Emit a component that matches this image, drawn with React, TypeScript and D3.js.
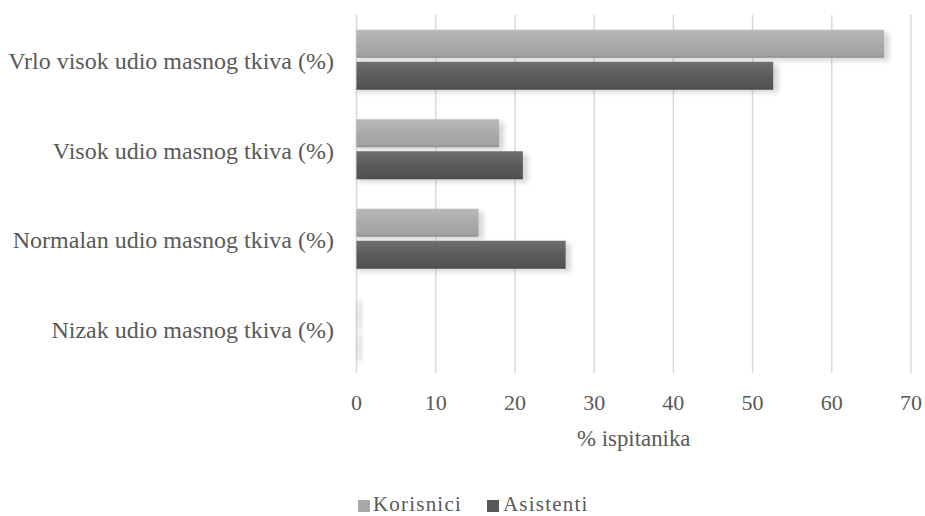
import React from 'react';
import * as d3 from 'd3';

const categories = [
  'Vrlo visok udio masnog tkiva (%)',
  'Visok udio masnog tkiva (%)',
  'Normalan udio masnog tkiva (%)',
  'Nizak udio masnog tkiva (%)',
];
const seriesNames = ['Korisnici', 'Asistenti'];
const korisnici = [66.6, 18.0, 15.4, 0];
const asistenti = [52.6, 21.0, 26.4, 0];
const xTicks = [0, 10, 20, 30, 40, 50, 60, 70];
const axisTitle = '% ispitanika';

const W = 925;
const H = 516;
const FONT = "'Liberation Serif', Tinos, 'Times New Roman', 'DejaVu Serif', serif";
const TEXT = '#595959';

export default function App() {
  const x = d3.scaleLinear().domain([0, 70]).range([356.5, 911]);
  const y = d3
    .scaleBand<string>()
    .domain(categories)
    .range([15, 373])
    .paddingInner(0.33)
    .paddingOuter(0.165);
  const sub = d3
    .scaleBand<string>()
    .domain(seriesNames)
    .range([0, y.bandwidth()])
    .paddingInner(0.125);
  const values: Record<string, number[]> = { Korisnici: korisnici, Asistenti: asistenti };
  const fills: Record<string, string> = { Korisnici: 'url(#gK)', Asistenti: 'url(#gA)' };
  const swatch: Record<string, string> = { Korisnici: '#a9a9a9', Asistenti: '#585858' };
  const x0 = x(0);

  const bars = seriesNames.flatMap((s) =>
    categories.map((c, i) => ({
      s,
      c,
      v: values[s][i],
      y: (y(c) as number) + (sub(s) as number),
      h: sub.bandwidth(),
    }))
  );

  const legendItems = [
    { s: 'Korisnici', sx: 358, tx: 373 },
    { s: 'Asistenti', sx: 487, tx: 503 },
  ];
  const ts = { fontFamily: FONT };

  return (
    <svg
      width={W}
      height={H}
      style={{ position: 'absolute', left: 0, top: 0, background: '#fff', fontFamily: FONT }}
    >
      <defs>
        <linearGradient id="gK" x1="0" y1="0" x2="0" y2="1">
          <stop offset="0" stopColor="#b9b9b9" />
          <stop offset="0.5" stopColor="#aaaaaa" />
          <stop offset="0.9" stopColor="#a2a2a2" />
          <stop offset="1" stopColor="#8e8e8e" />
        </linearGradient>
        <linearGradient id="gA" x1="0" y1="0" x2="0" y2="1">
          <stop offset="0" stopColor="#6f6f6f" />
          <stop offset="0.5" stopColor="#5b5b5b" />
          <stop offset="0.9" stopColor="#535353" />
          <stop offset="1" stopColor="#464646" />
        </linearGradient>
        <filter id="blur" x="-50%" y="-50%" width="200%" height="200%">
          <feGaussianBlur stdDeviation="2.5" />
        </filter>
      </defs>
      <rect x={0} y={0} width={W} height={H} fill="#fff" />
      {xTicks.map((t) => (
        <line
          key={'g' + t}
          x1={x(t)}
          x2={x(t)}
          y1={15}
          y2={373}
          stroke="#d9d9d9"
          strokeWidth={1.5}
        />
      ))}
      {bars.map((b) => (
        <rect
          key={'sh' + b.s + b.c}
          x={x0 + 1}
          y={b.y + 3}
          width={Math.max(x(b.v) - x0, 0) + 4}
          height={b.h}
          fill="#7a7a7a"
          opacity={0.3}
          filter="url(#blur)"
        />
      ))}
      {bars.map((b) => (
        <rect
          key={'b' + b.s + b.c}
          x={x0}
          y={b.y}
          width={Math.max(x(b.v) - x0, 0)}
          height={b.h}
          fill={fills[b.s]}
        />
      ))}
      {categories.map((c) => (
        <text
          key={'c' + c}
          x={334}
          y={(y(c) as number) + y.bandwidth() / 2 + 9.5}
          textAnchor="end"
          fontSize={24}
          fill={TEXT}
          style={ts}
        >
          {c}
        </text>
      ))}
      {xTicks.map((t) => (
        <text key={'t' + t} x={x(t)} y={410} textAnchor="middle" fontSize={22} fill={TEXT} style={ts}>
          {t}
        </text>
      ))}
      <text
        x={(x(0) + x(70)) / 2}
        y={446}
        textAnchor="middle"
        fontSize={22.8}
        fill={TEXT}
        style={ts}
      >
        {axisTitle}
      </text>
      {legendItems.map((l) => (
        <g key={'l' + l.s}>
          <rect x={l.sx} y={500} width={12} height={12} fill={swatch[l.s]} />
          <text x={l.tx} y={511} fontSize={21} letterSpacing={1.2} fill={TEXT} style={ts}>
            {l.s}
          </text>
        </g>
      ))}
    </svg>
  );
}
